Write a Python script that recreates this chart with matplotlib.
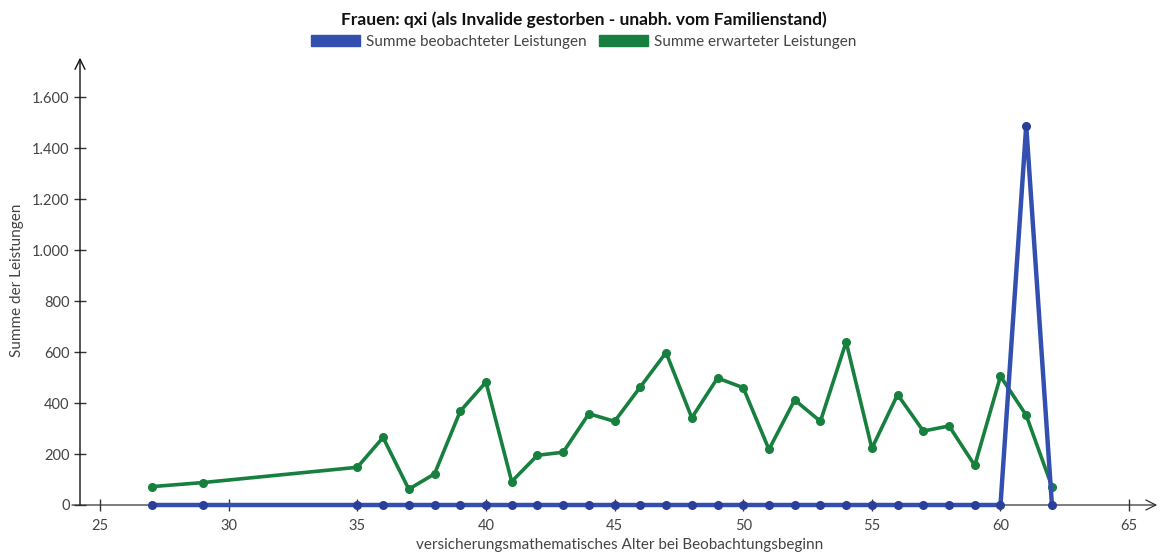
import matplotlib.pyplot as plt
from matplotlib.patches import Patch
from matplotlib.ticker import FuncFormatter

# ages (x) and sums per series
ages = [27, 29, 35, 36, 37, 38, 39, 40, 41, 42, 43, 44, 45, 46, 47, 48, 49, 50,
        51, 52, 53, 54, 55, 56, 57, 58, 59, 60, 61, 62]
observed = [0] * 28 + [1488, 0]
expected = [72, 88, 148, 265, 62, 122, 368, 482, 92, 195, 207, 358, 328, 463,
            598, 342, 498, 460, 218, 412, 328, 640, 222, 433, 290, 310, 155,
            505, 352, 72]
xticks = [25, 30, 35, 40, 45, 50, 55, 60, 65]
yticks = [0, 200, 400, 600, 800, 1000, 1200, 1400, 1600]

blue = '#3350b0'
green = '#17803f'

plt.rcParams['font.family'] = ['Lato', 'DejaVu Sans']

fig = plt.figure(figsize=(11.67, 5.57), dpi=100)
ax = fig.add_axes([80 / 1167, 52 / 557, 1080 / 1167, 450 / 557])

ax.plot(ages, expected, color=green, lw=2.6, marker='o', ms=5.5, zorder=3,
        clip_on=False)
ax.plot(ages, observed, color=blue, lw=3.2, marker='o', ms=5.5, zorder=4,
        mfc='#2a3f99', mec='#2a3f99', clip_on=False)

ax.set_xlim(24.22, 66.2)
ax.set_ylim(0, 1765)
ax.set_xticks(xticks)
ax.set_yticks(yticks)
ax.yaxis.set_major_formatter(FuncFormatter(lambda v, p: f'{int(v):,}'.replace(',', '.')))
ax.tick_params(direction='inout', length=8, width=1, labelsize=10.5,
               colors='#333333', labelcolor='#444444')
ax.tick_params(axis='x', pad=6)

for s in ax.spines.values():
    s.set_visible(False)
# axis lines with arrows
ax.annotate('', xy=(1.0, 0), xytext=(-0.01, 0), xycoords='axes fraction',
            arrowprops=dict(arrowstyle='->', color='#333333', lw=0.9,
                            mutation_scale=18))
ax.annotate('', xy=(0, 1.0), xytext=(0, -0.005), xycoords='axes fraction',
            arrowprops=dict(arrowstyle='->', color='#111111', lw=1.0,
                            mutation_scale=18))

ax.set_xlabel('versicherungsmathematisches Alter bei Beobachtungsbeginn',
              fontsize=11, color='#444444', labelpad=4)
ax.set_ylabel('Summe der Leistungen', fontsize=11, color='#444444', labelpad=6)

fig.text(0.5, 0.965, 'Frauen: qxi (als Invalide gestorben - unabh. vom Familienstand)',
         ha='center', va='center', fontsize=12.5, fontweight='bold', color='#111111')
handles = [Patch(color=blue, label='Summe beobachteter Leistungen'),
           Patch(color=green, label='Summe erwarteter Leistungen')]
fig.legend(handles=handles, loc='center', bbox_to_anchor=(0.5, 0.925), ncol=2,
           frameon=False, fontsize=11, handlelength=3.2, handleheight=0.8,
           columnspacing=0.8, handletextpad=0.4, labelcolor='#444444')

fig.savefig('out.png', dpi=100)
